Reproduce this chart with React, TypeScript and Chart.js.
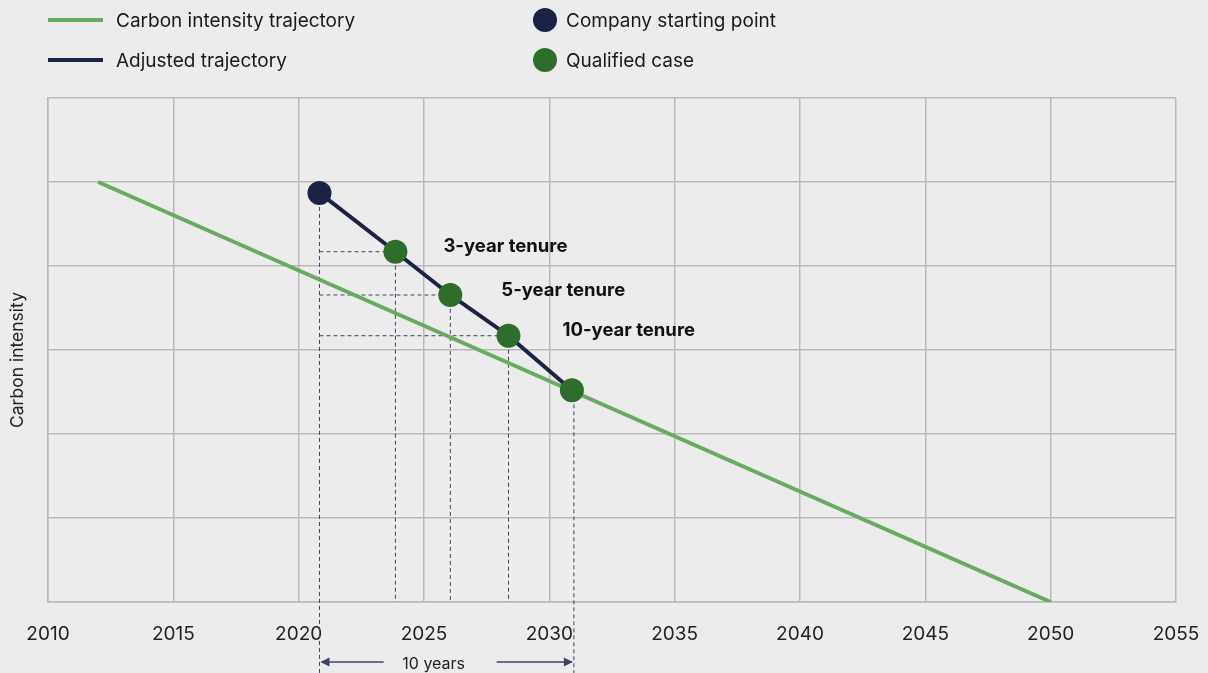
import React, { useEffect, useRef } from "react";
import { Chart, registerables } from "chart.js";

Chart.register(...registerables);

// ---- Data ----
const trajectoryYears = [2012, 2050];
const trajectoryValues = [5, 0];

const adjustedYears = [2020.83, 2023.86, 2026.05, 2028.37, 2030.9];
const adjustedValues = [4.87, 4.17, 3.655, 3.17, 2.52];

const startYears = [2020.83];
const startValues = [4.87];

const qualifiedYears = [2023.86, 2026.05, 2028.37, 2030.9];
const qualifiedValues = [4.17, 3.655, 3.17, 2.52];

const tenureLabels = ["3-year tenure", "5-year tenure", "10-year tenure"];
const spanYears = [2020.83, 2030.98];
const spanLabel = "10 years";

const legendLines = ["Carbon intensity trajectory", "Adjusted trajectory"];
const legendDots = ["Company starting point", "Qualified case"];
const yTitle = "Carbon intensity";

// ---- Styles ----
const GREEN = "#68ad5f";
const NAVY = "#1b2244";
const DGREEN = "#2e6d2b";
const GRID = "#b9b9b9";
const BG = "#ececec";
const DASH = "#3d4468";
const FONT = "Inter, 'Noto Sans', sans-serif";

const overlay = {
  id: "overlay",
  beforeDatasetsDraw(chart: any) {
    const { ctx, scales } = chart;
    const xs = scales.x;
    const ys = scales.y;
    const bottom = chart.chartArea.bottom;
    ctx.save();
    ctx.strokeStyle = DASH;
    ctx.lineWidth = 1;
    ctx.setLineDash([4, 3]);
    const x0 = xs.getPixelForValue(startYears[0]);
    ctx.beginPath();
    ctx.moveTo(x0, ys.getPixelForValue(startValues[0]));
    ctx.lineTo(x0, 673);
    ctx.stroke();
    qualifiedYears.forEach((yr, i) => {
      const px = xs.getPixelForValue(yr);
      const py = ys.getPixelForValue(qualifiedValues[i]);
      const last = i === qualifiedYears.length - 1;
      const vx = last ? xs.getPixelForValue(spanYears[1]) : px;
      ctx.beginPath();
      ctx.moveTo(vx, py);
      ctx.lineTo(vx, last ? 673 : bottom);
      ctx.stroke();
      if (!last) {
        ctx.beginPath();
        ctx.moveTo(x0, py);
        ctx.lineTo(px, py);
        ctx.stroke();
      }
    });
    ctx.restore();
  },
  afterDatasetsDraw(chart: any) {
    const { ctx, scales } = chart;
    const xs = scales.x;
    const ys = scales.y;
    ctx.save();
    ctx.fillStyle = "#111";
    ctx.font = `bold 18.5px ${FONT}`;
    ctx.textBaseline = "middle";
    ctx.textAlign = "left";
    tenureLabels.forEach((t, i) => {
      const px = xs.getPixelForValue(qualifiedYears[i]);
      const py = ys.getPixelForValue(qualifiedValues[i]);
      ctx.fillText(t, px + 48 + i * 3, py - 5);
    });
    const a = xs.getPixelForValue(spanYears[0]);
    const b = xs.getPixelForValue(spanYears[1]);
    const mid = (a + b) / 2 - 13;
    const ay = 662;
    ctx.strokeStyle = DASH;
    ctx.fillStyle = DASH;
    ctx.lineWidth = 1.5;
    ctx.setLineDash([]);
    ctx.beginPath();
    ctx.moveTo(a + 2, ay);
    ctx.lineTo(mid - 50, ay);
    ctx.moveTo(mid + 63, ay);
    ctx.lineTo(b - 2, ay);
    ctx.stroke();
    ctx.beginPath();
    ctx.moveTo(a + 1, ay);
    ctx.lineTo(a + 10, ay - 4.5);
    ctx.lineTo(a + 10, ay + 4.5);
    ctx.closePath();
    ctx.fill();
    ctx.beginPath();
    ctx.moveTo(b - 1, ay);
    ctx.lineTo(b - 10, ay - 4.5);
    ctx.lineTo(b - 10, ay + 4.5);
    ctx.closePath();
    ctx.fill();
    ctx.fillStyle = "#222";
    ctx.font = `16px ${FONT}`;
    ctx.textAlign = "center";
    ctx.fillText(spanLabel, mid, ay + 2);
    ctx.restore();
  },
  afterDraw(chart: any) {
    const { ctx } = chart;
    ctx.save();
    ctx.font = `19px ${FONT}`;
    ctx.textBaseline = "middle";
    ctx.textAlign = "left";
    const rows = [21, 61];
    const lineColors = [GREEN, NAVY];
    const dotColors = [NAVY, DGREEN];
    rows.forEach((ry, i) => {
      ctx.strokeStyle = lineColors[i];
      ctx.lineWidth = 4;
      ctx.beginPath();
      ctx.moveTo(48, ry - 1);
      ctx.lineTo(103, ry - 1);
      ctx.stroke();
      ctx.fillStyle = "#1a1a1a";
      ctx.fillText(legendLines[i], 116, ry);
      ctx.fillStyle = dotColors[i];
      ctx.beginPath();
      ctx.arc(545, ry - 1, 12, 0, Math.PI * 2);
      ctx.fill();
      ctx.fillStyle = "#1a1a1a";
      ctx.fillText(legendDots[i], 566, ry);
    });
    ctx.translate(18, 360);
    ctx.rotate(-Math.PI / 2);
    ctx.textAlign = "center";
    ctx.font = `17.5px ${FONT}`;
    ctx.fillStyle = "#222";
    ctx.fillText(yTitle, 0, 0);
    ctx.restore();
  },
};

export default function App() {
  const ref = useRef<HTMLCanvasElement | null>(null);
  useEffect(() => {
    if (!ref.current) return;
    const toPts = (xs: number[], ys: number[]) => xs.map((x, i) => ({ x, y: ys[i] }));
    const chart = new Chart(ref.current, {
      type: "line",
      data: {
        datasets: [
          {
            label: "Qualified case",
            data: toPts(qualifiedYears, qualifiedValues),
            showLine: false,
            pointRadius: 12,
            pointBackgroundColor: DGREEN,
            pointBorderWidth: 0,
            order: 0,
          },
          {
            label: "Company starting point",
            data: toPts(startYears, startValues),
            showLine: false,
            pointRadius: 12,
            pointBackgroundColor: NAVY,
            pointBorderWidth: 0,
            order: 0,
          },
          {
            label: "Adjusted trajectory",
            data: toPts(adjustedYears, adjustedValues),
            borderColor: NAVY,
            borderWidth: 4,
            pointRadius: 0,
            tension: 0,
            order: 1,
          },
          {
            label: "Carbon intensity trajectory",
            data: toPts(trajectoryYears, trajectoryValues),
            borderColor: GREEN,
            borderWidth: 4,
            pointRadius: 0,
            tension: 0,
            order: 2,
          },
        ],
      },
      options: {
        animation: false,
        responsive: false,
        devicePixelRatio: 1,
        layout: { padding: { top: 98, right: 32, left: 0, bottom: 0 } },
        plugins: { legend: { display: false }, tooltip: { enabled: false } },
        scales: {
          x: {
            type: "linear",
            min: 2010,
            max: 2055,
            ticks: {
              stepSize: 5,
              padding: 21,
              color: "#222",
              font: { family: FONT, size: 19 },
              callback: (v: any) => String(v),
            },
            grid: { color: GRID, lineWidth: 1.5, drawTicks: false },
            border: { color: GRID, width: 1.5 },
            afterFit: (s: any) => {
              s.height = 71;
              s.paddingLeft = 0;
              s.paddingRight = 0;
            },
          },
          y: {
            type: "linear",
            min: 0,
            max: 6,
            ticks: { stepSize: 1, display: false },
            grid: { color: GRID, lineWidth: 1.5, drawTicks: false },
            border: { color: GRID, width: 1.5 },
            afterFit: (s: any) => {
              s.width = 48;
              s.paddingTop = 0;
              s.paddingBottom = 0;
            },
          },
        },
      },
      plugins: [overlay],
    });
    return () => chart.destroy();
  }, []);
  return (
    <div style={{ position: "fixed", left: 0, top: 0, width: 1208, height: 673, background: BG }}>
      <canvas ref={ref} width={1208} height={673} style={{ display: "block" }} />
    </div>
  );
}
